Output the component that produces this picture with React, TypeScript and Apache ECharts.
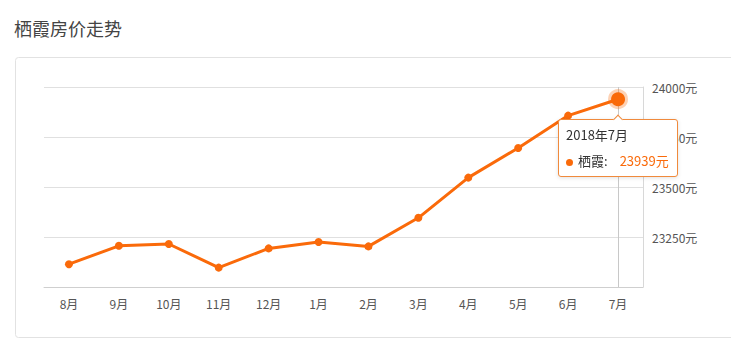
import React, { useEffect, useRef } from "react";
import * as echarts from "echarts";

const TITLE = "栖霞房价走势";
const SERIES_NAME = "栖霞";
const months = ["8月", "9月", "10月", "11月", "12月", "1月", "2月", "3月", "4月", "5月", "6月", "7月"];
const fullDates = ["2017年8月", "2017年9月", "2017年10月", "2017年11月", "2017年12月", "2018年1月", "2018年2月", "2018年3月", "2018年4月", "2018年5月", "2018年6月", "2018年7月"];
const prices = [23114, 23206, 23215, 23097, 23193, 23225, 23203, 23346, 23547, 23695, 23857, 23939];
const Y_MIN = 23000;
const Y_MAX = 24000;
const Y_STEP = 250;

const ORANGE = "#fa6a0a";
const FONT = "'Noto Sans CJK SC', 'Noto Sans', sans-serif";

export default function App() {
  const ref = useRef<HTMLDivElement>(null);
  useEffect(() => {
    if (!ref.current) return;
    document.body.style.margin = "0";
    const chart = echarts.init(ref.current, undefined, { renderer: "svg" });
    const last = prices.length - 1;
    chart.setOption({
      animation: false,
      backgroundColor: "#fff",
      textStyle: { fontFamily: FONT },
      title: {
        text: TITLE,
        left: 9,
        top: 14,
        textStyle: { fontSize: 18, fontWeight: "normal", color: "#444", fontFamily: FONT },
      },
      graphic: [
        {
          type: "rect",
          z: -10,
          shape: { x: 15.5, y: 57.5, width: 740, height: 280, r: 3 },
          style: { fill: "none", stroke: "#e2e2e2", lineWidth: 1 },
        },
      ],
      grid: { left: 44, right: 88, top: 87, bottom: 69 },
      tooltip: {
        trigger: "item",
        position: "bottom",
        alwaysShowContent: true,
        backgroundColor: "#fff",
        borderColor: "#f08a3c",
        borderWidth: 1,
        borderRadius: 3,
        padding: [2, 8, 2, 7],
        extraCssText: "box-shadow: 0 1px 4px rgba(0,0,0,0.12);",
        textStyle: { color: "#333", fontSize: 13, fontFamily: FONT },
        formatter: (p: any) =>
          `<div style="line-height:26px">${fullDates[p.dataIndex]}</div>` +
          `<div style="line-height:26px"><span style="display:inline-block;width:7px;height:7px;border-radius:50%;background:${ORANGE};margin-right:5px;vertical-align:middle"></span>` +
          `${p.seriesName}:<span style="color:${ORANGE};margin-left:12px">${p.value}元</span></div>`,
      },
      xAxis: {
        type: "category",
        data: months,
        boundaryGap: true,
        axisLine: { lineStyle: { color: "#cfcfcf" } },
        axisTick: { alignWithLabel: true, length: 5, lineStyle: { color: "#cfcfcf" } },
        axisLabel: { color: "#555", fontSize: 12, margin: 10, fontFamily: FONT },
        axisPointer: {
          show: true,
          type: "line",
          value: last,
          status: "show",
          triggerTooltip: false,
          z: 1,
          lineStyle: { color: "#c8c8c8", width: 1, type: "solid" },
          label: { show: false },
        },
      },
      yAxis: {
        type: "value",
        position: "right",
        min: Y_MIN,
        max: Y_MAX,
        interval: Y_STEP,
        axisLine: { show: true, lineStyle: { color: "#d8d8d8" } },
        axisTick: { show: false },
        splitLine: { lineStyle: { color: "#e0e0e0" } },
        axisLabel: {
          color: "#555",
          fontSize: 12,
          margin: 9,
          showMinLabel: false,
          formatter: (v: number) => `${v}元`,
          fontFamily: FONT,
        },
      },
      series: [
        {
          name: SERIES_NAME,
          type: "line",
          z: 5,
          data: prices.map((v, i) =>
            i === last
              ? {
                  value: v,
                  symbolSize: 14,
                  itemStyle: { color: ORANGE, borderColor: "rgba(250,106,10,0.3)", borderWidth: 6 },
                }
              : v
          ),
          symbol: "circle",
          symbolSize: 8,
          lineStyle: { color: ORANGE, width: 3 },
          itemStyle: { color: ORANGE },
          emphasis: { disabled: true },
        },
      ],
    });
    chart.dispatchAction({ type: "showTip", seriesIndex: 0, dataIndex: last });
    return () => chart.dispose();
  }, []);
  return <div ref={ref} style={{ width: 731, height: 356 }} />;
}
